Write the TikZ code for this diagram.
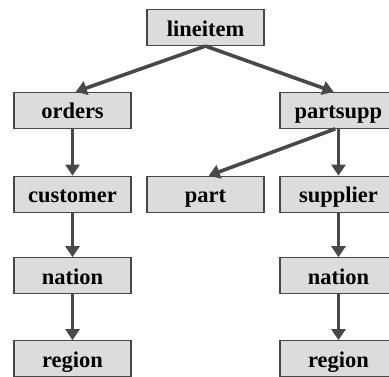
\documentclass[tikz,border=0pt]{standalone}
\usepackage{fontspec}
\setmainfont{Liberation Serif}
\usetikzlibrary{arrows.meta}

\definecolor{boxfill}{RGB}{220,220,220}
\definecolor{linkgray}{RGB}{72,72,72}

\begin{document}
\begin{tikzpicture}[x=1pt, y=-1pt,
    table/.style={draw=linkgray, line width=1.1pt, fill=boxfill, minimum width=117pt,
        minimum height=36pt, inner sep=0pt, text height=17pt, text depth=0pt,
        font=\fontsize{22.5}{25}\selectfont\bfseries},
    link/.style={draw=linkgray, line width=3.6pt, -{Triangle[length=11pt,width=14pt]}}]

\useasboundingbox (0,0) rectangle (389,376);

\node[table] (lineitem) at (205.5,27.5) {lineitem};
\node[table] (orders) at (72.5,110.3) {orders};
\node[table] (partsupp) at (338.5,110.3) {partsupp};
\node[table] (customer) at (72.5,194.2) {customer};
\node[table] (part) at (205.5,194.2) {part};
\node[table] (supplier) at (338.5,194.2) {supplier};
\node[table] (nation1) at (72.5,275.7) {nation};
\node[table] (nation2) at (338.5,275.7) {nation};
\node[table] (region1) at (72.5,358.7) {region};
\node[table] (region2) at (338.5,358.7) {region};

\draw[link] (lineitem.south) -- (orders.80);
\draw[link] (lineitem.south) -- (partsupp.105);
\draw[link] (partsupp.-100) -- (part.80);
\draw[link] (orders) -- (customer);
\draw[link] (customer) -- (nation1);
\draw[link] (nation1) -- (region1);
\draw[link] (partsupp) -- (supplier);
\draw[link] (supplier) -- (nation2);
\draw[link] (nation2) -- (region2);
\end{tikzpicture}
\end{document}
